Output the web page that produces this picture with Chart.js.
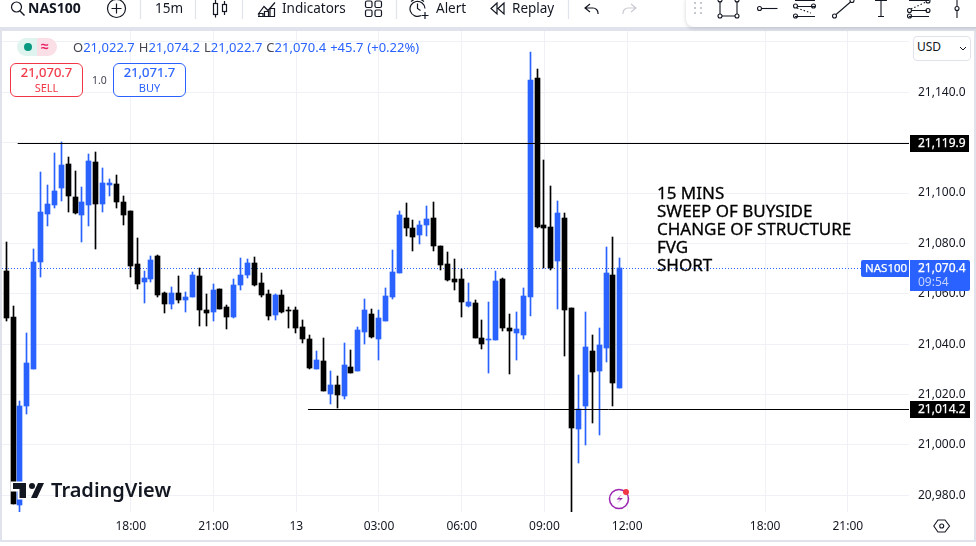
<!DOCTYPE html>
<html><head><meta charset="utf-8">
<style>
html,body{margin:0;padding:0;background:#fff;width:976px;height:546px;overflow:hidden;font-family:"Noto Sans",sans-serif;color:#131722}
#wrap{position:absolute;left:0;top:0;width:976px;height:546px}
#c{position:absolute;left:0;top:0}
.t{position:absolute;white-space:nowrap;line-height:1}
.bx{position:absolute;box-sizing:border-box}
svg{position:absolute;overflow:visible}
.w{-webkit-text-stroke:0.25px #fff}
</style></head><body>
<div id="wrap">
<div class="bx" style="left:0;top:0;width:976px;height:27px;background:#fff"></div>
<div class="bx" style="left:0;top:27px;width:976px;height:4px;background:#e0e3eb"></div>
<div class="bx" style="left:0;top:27px;width:2px;height:515px;background:#e0e3eb"></div>
<div class="bx" style="left:974px;top:27px;width:2px;height:515px;background:#e0e3eb"></div>
<div class="bx" style="left:0;top:540px;width:976px;height:2px;background:#e0e3eb"></div>
<canvas id="c" width="976" height="546"></canvas>

<!-- left toolbar -->
<svg width="976" height="31" style="left:0;top:0" fill="none" stroke="#131722" stroke-width="1.2">
 <circle cx="16.5" cy="7" r="5"/><path d="M20 11l4.5 4.5" stroke-width="1.4"/>
 <circle cx="116.5" cy="8.5" r="9"/><path d="M116.5 3.5v10M111.500 8.500h10"/>
 <path d="M140.500 0v19M195.500 0v19M242.500 0v19M396.500 0v19M568.500 0v19" stroke="#e0e3eb"/>
 <rect x="213.500" y="3.500" width="4" height="11"/><path d="M215.500 0v3.500M215.500 14.500v3"/>
 <rect x="222.500" y="4.500" width="4" height="7"/><path d="M224.500 1v3.500M224.500 11.500v3.500"/>
 <path d="M258 14.500l6-8 4 4 7-8"/><path d="M259 16.500v-3h4v3M264.500 16.500v-5h4v5M270 16.500v-8h4.500v8M258 16.500h17"/>
 <rect x="365.500" y="1" width="6.500" height="6.500" rx="1.500"/><rect x="375" y="1" width="6.500" height="6.500" rx="1.500"/>
 <rect x="365.500" y="10" width="6.500" height="6.500" rx="1.500"/><rect x="375" y="10" width="6.500" height="6.500" rx="1.500"/>
 <path d="M421 15.500a7.500 7.500 0 1 1 4-7M417.500 3.500v5l3 2M411 1.500l3-2M424 1.500l-3-2M425 12v7M421.500 15.500h7"/>
 <path d="M497 3l-6 5.500 6 5.500zM504 3l-6 5.500 6 5.500z" stroke="#131722"/>
 <path d="M590 4l-5 4 5 4M585 8h8a5 5 0 0 1 5 5v1"/>
 <path d="M631 4l5 4-5 4M636 8h-8a5 5 0 0 0-5 5v1" stroke="#c9cbd2"/>
</svg>
<div class="t" style="left:28px;top:1px;font-size:14px;font-weight:700">NAS100</div>
<div class="t" style="left:155px;top:2px;font-size:13.500px">15m</div>
<div class="t" style="left:282px;top:2px;font-size:13.500px">Indicators</div>
<div class="t" style="left:436px;top:2px;font-size:13.500px">Alert</div>
<div class="t" style="left:512px;top:2px;font-size:13.500px">Replay</div>

<!-- floating drawing toolbar -->
<div class="bx" style="left:686px;top:-6px;width:300px;height:33px;background:#fff;border-radius:8px;box-shadow:0 1px 4px rgba(19,23,34,.18)"></div>
<svg width="976" height="31" style="left:0;top:0" fill="none" stroke="#131722" stroke-width="1.1">
 <g fill="#c5c8d0" stroke="none"><rect x="694" y="2" width="2" height="2"/><rect x="700" y="2" width="2" height="2"/><rect x="694" y="7" width="2" height="2"/><rect x="700" y="7" width="2" height="2"/><rect x="694" y="12" width="2" height="2"/><rect x="700" y="12" width="2" height="2"/></g>
 <path d="M720 1v13M737 1v13M722 16h13"/><circle cx="720" cy="16" r="2"/><circle cx="737" cy="16" r="2"/><circle cx="720" cy="0" r="2"/><circle cx="737" cy="0" r="2"/>
 <circle cx="759.500" cy="8.500" r="2"/><path d="M762 8.500h15.500"/>
 <path d="M795 0.500h20M798 6.500h17M795 16.500h20"/><circle cx="795.500" cy="6" r="2"/><circle cx="813.500" cy="6" r="2"/><circle cx="795.500" cy="16" r="2"/><path d="M797 8l14 5" stroke-dasharray="1.500 2"/>
 <circle cx="834.500" cy="16" r="2"/><circle cx="852" cy="0.500" r="2"/><path d="M836 14.500L850.500 2"/>
 <path d="M881 0v16.500M878 16.500h6M875 0.500h12"/>
 <path d="M909 0.500h20M911 10.500h16M909 16.500h20"/><circle cx="909.500" cy="10.500" r="2"/><circle cx="928" cy="10.500" r="2"/><circle cx="909.500" cy="16" r="2"/><circle cx="928" cy="1" r="2"/><path d="M911 9l15-7" stroke-dasharray="1.500 2"/>
 <path d="M957 0v6M957 11v7"/><circle cx="957" cy="8.500" r="2"/>
</svg>

<!-- legend -->
<div class="bx" style="left:17px;top:38px;width:20px;height:18px;background:#dff3ef;border-radius:9px 0 0 9px"></div>
<div class="bx" style="left:37px;top:38px;width:20px;height:18px;background:#fbdfe6;border-radius:0 9px 9px 0"></div>
<svg width="60" height="20" style="left:17px;top:38px"><circle cx="11" cy="9" r="4" fill="#089981"/></svg>
<div class="t" style="left:41px;top:39px;font-size:14px;color:#e91e63;font-weight:700">≈</div>
<div class="t" id="ohlc" style="left:73px;top:41px;font-size:13px;word-spacing:0.6px;color:#2962ff"></div>
<div class="bx" style="left:10px;top:63px;width:73px;height:34px;background:#fff;border:1px solid #f23645;border-radius:6px"></div>
<div class="t" style="left:10px;width:73px;text-align:center;top:66px;font-size:13px;color:#f23645;-webkit-text-stroke:0.2px #f23645">21,070.7</div>
<div class="t" style="left:10px;width:73px;text-align:center;top:82px;font-size:11px;color:#f23645">SELL</div>
<div class="t" style="left:92px;top:75px;font-size:10.500px;color:#434651">1.0</div>
<div class="bx" style="left:113px;top:63px;width:73px;height:34px;background:#fff;border:1px solid #2962ff;border-radius:6px"></div>
<div class="t" style="left:113px;width:73px;text-align:center;top:66px;font-size:13px;color:#2962ff;-webkit-text-stroke:0.2px #2962ff">21,071.7</div>
<div class="t" style="left:113px;width:73px;text-align:center;top:82px;font-size:11px;color:#2962ff">BUY</div>

<!-- USD -->
<div class="bx" style="left:913px;top:36px;width:58px;height:25px;background:#fff;border:1px solid #e0e3eb;border-radius:4px"></div>
<div class="t" style="left:917px;top:41px;font-size:12px">USD</div>
<svg width="10" height="6" style="left:959px;top:46px" fill="none" stroke="#131722" stroke-width="1"><path d="M1 1l3 3 3-3"/></svg>

<!-- annotation -->
<div class="t" style="left:657px;top:184px;font-size:17px;line-height:18px;color:#000;-webkit-text-stroke:0.3px #000">15 MINS<br>SWEEP OF BUYSIDE<br>CHANGE OF STRUCTURE<br>FVG<br>SHORT</div>

<!-- price labels -->
<div class="bx" style="left:910px;top:135px;width:59px;height:17px;background:#000"></div>
<div class="t w" style="left:918px;top:137px;font-size:12px;color:#fff">21,119.9</div>
<div class="bx" style="left:910px;top:401px;width:60px;height:17px;background:#000"></div>
<div class="t w" style="left:918px;top:403px;font-size:12px;color:#fff">21,014.2</div>
<div class="bx" style="left:861px;top:260px;width:48px;height:17px;background:#2962ff;border-radius:2px 0 0 2px"></div>
<div class="t w" style="left:865px;top:262px;font-size:11.500px;color:#fff">NAS100</div>
<div class="bx" style="left:910px;top:260px;width:60px;height:31px;background:#2962ff;border-radius:0 2px 2px 0"></div>
<div class="t w" style="left:918px;top:262px;font-size:12px;color:#fff">21,070.4</div>
<div class="t" style="left:918px;top:276px;font-size:12px;color:#c3d2ff">09:54</div>

<!-- TradingView logo -->
<svg width="40" height="20" style="left:12px;top:481px">
 <path d="M0 2h14v15h-7V9H0z" fill="#fff" stroke="#fff" stroke-width="3"/>
 <path d="M1 2h13v15H7.500V8H1z" fill="#131722"/>
 <circle cx="20" cy="5" r="3" fill="#131722"/>
 <path d="M26 2h6l-7 15h-6z" fill="#131722"/>
</svg>
<div class="t" style="left:51px;top:480px;font-size:20px;font-weight:600;color:#131722">TradingView</div>

<!-- lightning -->
<svg width="26" height="26" style="left:606px;top:486px" fill="none">
 <circle cx="13" cy="13" r="9.500" stroke="#9c27b0" stroke-width="1.500"/>
 <path d="M15.500 8.500l-5 5h4l-3.500 4 6-5.500h-4z" fill="#9c27b0"/>
 <circle cx="20" cy="6" r="3" fill="#f23645"/>
</svg>
<!-- settings -->
<svg width="18" height="16" style="left:933px;top:518px" fill="none" stroke="#131722" stroke-width="1.1">
 <path d="M5 2h7l4.500 6-4.500 6H5L0.800 8z"/><circle cx="8.700" cy="8" r="2"/>
</svg>
</div>

<script src="https://cdn.jsdelivr.net/npm/chart.js@4"></script>
<script>
const opens=[21069.0,21050.8,20976.2,21015.5,21030.2,21072.6,21091.7,21095.2,21102.0,21111.5,21098.4,21091.3,21095.2,21112.3,21095.6,21103.2,21103.6,21096.4,21092.9,21071.8,21064.7,21065.9,21075.0,21060.3,21056.0,21060.3,21057.5,21058.7,21067.1,21053.6,21052.8,21061.9,21054.8,21050.8,21063.5,21067.5,21072.2,21064.3,21059.9,21051.6,21059.5,21053.6,21053.6,21046.8,21042.1,21030.2,21033.3,21020.2,21023.8,21019.4,21031.0,21029.4,21044.8,21052.0,21042.1,21049.2,21058.7,21068.3,21090.1,21086.1,21083.3,21087.3,21090.1,21079.0,21071.8,21065.9,21065.9,21055.2,21056.3,21042.5,21041.7,21041.7,21065.9,21046.4,21044.4,21043.7,21058.7,21145.6,21087.3,21086.5,21073.0,21090.1,21054.4,21006.3,21015.5,21037.3,21029.4,21038.5,21067.5,21022.7];
const highs=[21080.6,21055.2,21017.5,21044.4,21077.8,21108.3,21103.2,21115.9,21120.2,21114.3,21108.7,21102.4,21115.5,21116.3,21109.9,21105.6,21107.1,21098.8,21092.9,21082.1,21069.0,21075.0,21075.4,21060.7,21062.7,21067.1,21060.7,21068.7,21070.2,21059.9,21063.9,21061.9,21055.6,21065.9,21074.2,21073.8,21074.6,21068.3,21061.5,21059.9,21061.5,21054.8,21054.8,21049.6,21043.7,21037.3,21042.5,21029.4,21027.4,21040.5,21037.7,21046.8,21057.9,21054.0,21053.6,21062.3,21077.4,21092.9,21096.0,21089.3,21088.9,21094.8,21096.4,21079.0,21076.6,21073.8,21069.8,21064.3,21057.5,21049.6,21056.7,21069.0,21066.3,21052.0,21052.8,21062.3,21156.0,21149.2,21113.1,21102.8,21096.8,21092.1,21054.4,21027.8,21052.8,21043.7,21046.4,21078.6,21082.5,21074.2];
const lows=[21049.2,20976.6,20973.4,21012.3,21030.2,21066.7,21086.9,21094.0,21096.8,21092.5,21091.7,21080.6,21086.9,21077.8,21092.5,21098.8,21094.0,21087.3,21066.7,21061.9,21056.3,21064.7,21058.7,21052.4,21054.0,21056.3,21052.8,21058.7,21047.2,21047.2,21049.2,21054.0,21046.0,21050.4,21061.5,21066.3,21063.1,21058.7,21049.6,21049.6,21052.4,21046.4,21044.4,21040.5,21030.2,21030.2,21021.4,21016.3,21014.7,21018.3,21028.6,21029.4,21040.1,21042.5,21033.7,21049.2,21057.9,21068.3,21082.9,21077.0,21079.8,21082.9,21077.0,21069.4,21065.1,21061.5,21050.8,21054.8,21042.5,21038.1,21028.6,21041.7,21045.2,21028.2,21033.7,21042.1,21051.2,21086.1,21070.2,21069.4,21054.0,21035.3,20973.4,20992.9,21000.0,21008.7,21004.0,21032.9,21015.5,21022.7];
const closes=[21050.4,20976.6,21015.5,21032.5,21072.6,21092.5,21095.6,21100.8,21111.1,21098.8,21092.1,21096.4,21112.7,21095.6,21104.0,21104.0,21096.4,21091.3,21071.0,21063.9,21066.3,21073.4,21059.5,21056.0,21060.3,21057.5,21058.7,21067.5,21053.6,21052.4,21061.5,21054.0,21050.8,21063.5,21067.5,21072.2,21063.5,21059.5,21051.2,21059.5,21052.8,21053.2,21046.4,21042.1,21030.6,21033.7,21021.4,21023.8,21019.8,21031.7,21028.6,21045.6,21053.6,21042.9,21050.4,21059.1,21068.7,21091.3,21086.1,21082.5,21087.3,21089.7,21079.0,21071.4,21065.5,21064.7,21056.7,21056.7,21042.5,21040.1,21042.1,21065.1,21046.4,21045.2,21046.0,21059.1,21144.8,21086.5,21086.1,21070.2,21092.1,21053.6,21006.7,21014.3,21038.9,21029.0,21039.7,21068.3,21024.6,21070.4];
const resistanceLevel=21119.9, resistanceStart=1.6;
const supportLevel=21014.2, supportStart=43.7;
const lastPrice=21070.4;
const xTickIndex=[18,30,42,54,66,78,90,110,122];
const xTickLabels=['18:00','21:00','13','03:00','06:00','09:00','12:00','18:00','21:00'];
const yTicks=[20980,21000,21020,21040,21060,21080,21100,21120,21140,21160];
const legendParts=[['O','21,022.7'],['H','21,074.2'],['L','21,022.7'],['C','21,070.4']];
const legendChange='+45.7 (+0.22%)';

document.getElementById('ohlc').innerHTML=legendParts.map(p=>'<span style="color:#434651">'+p[0]+'</span>'+p[1]).join(' ')+' '+legendChange;

const UP='#2962ff',DOWN='#000000';
const colors=closes.map((c,i)=>c>=opens[i]?UP:DOWN);
const xMin=-0.6744,xMax=130.87,yMin=20973.4,yMax=21164.3;

const crisp={id:'crisp',afterDatasetsUpdate(chart){
  chart.data.datasets.forEach((d,di)=>{
    const els=chart.getDatasetMeta(di).data;
    if(d.type==='bar'){
      els.forEach(el=>{
        el.x=Math.floor(el.x-2.5)+2.5;
        const a=Math.round(Math.min(el.y,el.base)),b=Math.round(Math.max(el.y,el.base));
        el.y=a;el.base=b>a?b:a+1;el.height=el.base-el.y;
      });
    }else{
      els.forEach(el=>{el.y=Math.round(el.y)+0.5;});
    }
  });
}};

new Chart(document.getElementById('c'),{
  data:{datasets:[
    {type:'line',label:'Resistance',data:[{x:resistanceStart,y:resistanceLevel},{x:xMax,y:resistanceLevel}],borderColor:'#000',borderWidth:1,pointRadius:0,order:1},
    {type:'line',label:'Support',data:[{x:supportStart,y:supportLevel},{x:xMax,y:supportLevel}],borderColor:'#000',borderWidth:1,pointRadius:0,order:1},
    {type:'bar',label:'Body',data:opens.map((o,i)=>({x:i,y:[o,closes[i]]})),backgroundColor:colors,barThickness:5,grouped:false,order:2},
    {type:'bar',label:'Wick',data:highs.map((h,i)=>({x:i,y:[lows[i],h]})),backgroundColor:colors,barThickness:1,grouped:false,order:3},
    {type:'line',label:'Last',data:[{x:xMin,y:lastPrice},{x:xMax,y:lastPrice}],borderColor:'#2962ff',borderWidth:1,borderDash:[1,2],pointRadius:0,order:4}
  ]},
  plugins:[crisp],
  options:{
    responsive:false,animation:false,
    layout:{padding:{left:2,top:31,right:6,bottom:6}},
    plugins:{legend:{display:false},tooltip:{enabled:false}},
    scales:{
      x:{type:'linear',position:'bottom',min:xMin,max:xMax,offset:false,
        afterBuildTicks(s){s.ticks=xTickIndex.map(v=>({value:v}));},
        afterFit(s){s.height=28;},
        border:{display:false},
        grid:{color:'#eff1f6',drawTicks:false,offset:false},
        ticks:{autoSkip:false,maxRotation:0,padding:7,color:'#131722',font:{family:'"Noto Sans"',size:12},
          callback(v){return xTickLabels[xTickIndex.indexOf(v)];}}},
      y:{type:'linear',position:'right',min:yMin,max:yMax,
        afterBuildTicks(s){s.ticks=yTicks.map(v=>({value:v}));},
        afterFit(s){s.width=61;},
        border:{display:false},
        grid:{color:'#eff1f6',drawTicks:false},
        ticks:{padding:9,color:'#131722',font:{family:'"Noto Sans"',size:12},
          callback(v){return v===21160?'':v.toLocaleString('en-US',{minimumFractionDigits:1,maximumFractionDigits:1});}}}
    }
  }
});
</script>
</body></html>
